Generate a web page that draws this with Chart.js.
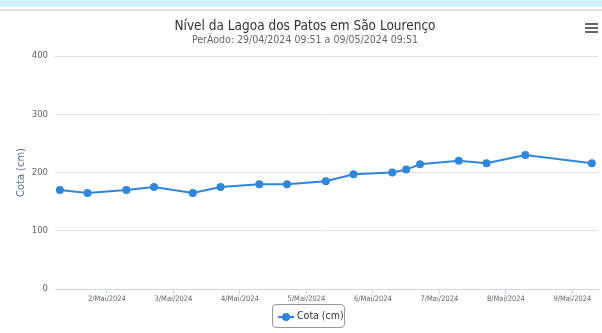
<!DOCTYPE html>
<html>
<head>
<meta charset="utf-8">
<script src="https://cdn.jsdelivr.net/npm/chart.js@4"></script>
<style>
    body { margin: 0; width: 602px; height: 333px; overflow: hidden; background: #fff; position: relative; font-family: "DejaVu Sans Condensed", sans-serif; }
    #topo { position: absolute; left: 0; top: 0; width: 602px; height: 7px; background: #d5f1fd; }
    #linha { position: absolute; left: 0; top: 9px; width: 602px; height: 2px; background: #e2e2e2; }
    #titulo { position: absolute; left: 0; top: 17px; width: 610px; text-align: center; font-size: 13.5px; color: #333; white-space: nowrap; }
    #subtitulo { position: absolute; left: 0; top: 33px; width: 610px; text-align: center; font-size: 10.5px; color: #666; white-space: nowrap; }
    #menu { position: absolute; left: 585px; top: 23px; width: 13px; }
    #menu div { height: 2px; background: #666; margin-bottom: 2px; }
    #grafico { position: absolute; left: 0; top: 0; }
    #legenda { position: absolute; left: 272px; top: 304px; width: 71px; height: 22px; border: 1px solid #999; border-radius: 4px; font-size: 10.5px; color: #333; white-space: nowrap; }
    #legenda .simbolo { position: absolute; left: 5px; top: 11px; width: 16px; height: 2px; background: #2f86dc; }
    #legenda .ponto { position: absolute; left: 4px; top: -3px; width: 8px; height: 8px; border-radius: 50%; background: #2f86dc; }
    #legenda .texto { position: absolute; left: 24px; top: 4px; }
</style>
</head>
<body>
<div id="topo"></div>
<div id="linha"></div>
<canvas id="grafico" width="602" height="333"></canvas>
<div id="titulo">Nível da Lagoa dos Patos em São Lourenço</div>
<div id="subtitulo">PerÃodo: 29/04/2024 09:51 a 09/05/2024 09:51</div>
<div id="menu"><div></div><div></div><div></div></div>
<div id="legenda"><span class="simbolo"><span class="ponto"></span></span><span class="texto">Cota (cm)</span></div>

<script>
// leituras da régua (hora local) e cota em cm
const horarios = [
    '2024-05-01 07:00', '2024-05-01 17:00',
    '2024-05-02 07:00', '2024-05-02 17:00',
    '2024-05-03 07:00', '2024-05-03 17:00',
    '2024-05-04 07:00', '2024-05-04 17:00',
    '2024-05-05 07:00', '2024-05-05 17:00',
    '2024-05-06 07:00', '2024-05-06 12:00', '2024-05-06 17:00',
    '2024-05-07 07:00', '2024-05-07 17:00',
    '2024-05-08 07:00',
    '2024-05-09 07:00'
];
const cotas = [170, 165, 170, 175, 165, 175, 180, 180, 185, 197, 200, 205, 214, 220, 216, 230, 216];

const dias = ['2024-05-02', '2024-05-03', '2024-05-04', '2024-05-05', '2024-05-06', '2024-05-07', '2024-05-08', '2024-05-09'];
const rotulosDias = ['2/Mai/2024', '3/Mai/2024', '4/Mai/2024', '5/Mai/2024', '6/Mai/2024', '7/Mai/2024', '8/Mai/2024', '9/Mai/2024'];

function ms(s) {
    return Date.parse(s.replace(' ', 'T') + (s.length > 10 ? ':00Z' : 'T00:00:00Z'));
}

const pontos = horarios.map((h, i) => ({ x: ms(h), y: cotas[i] }));
const ticksDias = dias.map(ms);
const inicio = ms('2024-05-01 05:15');
const fim = ms('2024-05-09 09:15');

new Chart(document.getElementById('grafico'), {
    type: 'line',
    data: {
        datasets: [{
            label: 'Cota (cm)',
            data: pontos,
            borderColor: '#2f86dc',
            backgroundColor: '#2f86dc',
            borderWidth: 2,
            pointRadius: 4,
            pointBorderWidth: 0,
            tension: 0
        }]
    },
    options: {
        responsive: false,
        animation: false,
        layout: { padding: { top: 56, right: 1, bottom: 0, left: 15 } },
        plugins: {
            legend: { display: false },
            tooltip: { enabled: false }
        },
        scales: {
            x: {
                type: 'linear',
                min: inicio,
                max: fim,
                afterBuildTicks: (scale) => {
                    scale.ticks = ticksDias.map(v => ({ value: v }));
                },
                afterFit: (scale) => { scale.height = 44; },
                border: { color: '#ccd6eb', width: 1 },
                grid: { drawOnChartArea: false, drawTicks: true, tickLength: 5, color: '#ccd6eb' },
                ticks: {
                    autoSkip: false,
                    maxRotation: 0,
                    padding: 1,
                    color: '#666',
                    font: { family: 'DejaVu Sans Condensed', size: 7.5 },
                    callback: (v) => rotulosDias[ticksDias.indexOf(v)]
                }
            },
            y: {
                min: 0,
                max: 400,
                afterFit: (scale) => { scale.width = 40; },
                border: { display: false },
                grid: { color: '#e2e2e2', lineWidth: 1, drawTicks: false },
                ticks: {
                    stepSize: 100,
                    padding: 7,
                    color: '#666',
                    font: { family: 'DejaVu Sans Condensed', size: 9.5 }
                },
                title: {
                    display: true,
                    text: 'Cota (cm)',
                    color: '#5b7395',
                    padding: { top: 0, bottom: 4 },
                    font: { family: 'DejaVu Sans Condensed', size: 11 }
                }
            }
        }
    }
});
</script>
</body>
</html>
